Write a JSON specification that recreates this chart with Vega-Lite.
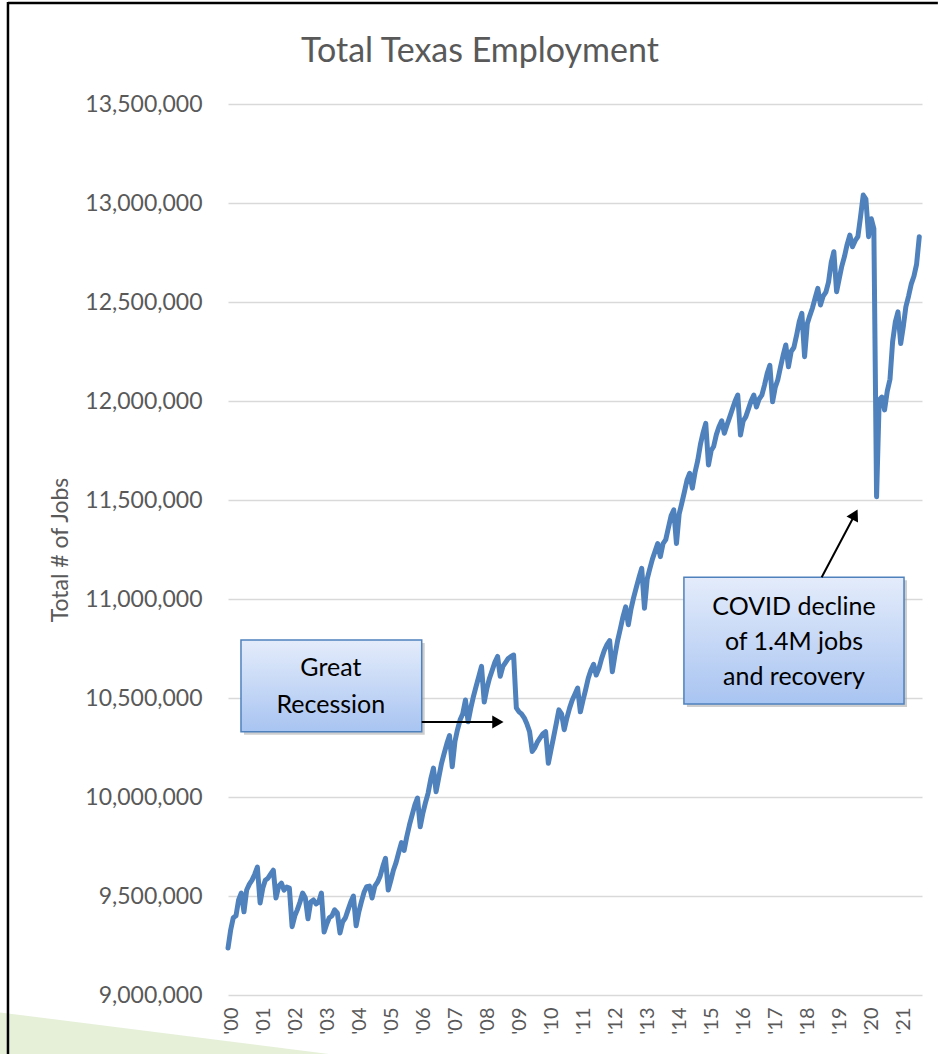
{
  "$schema": "https://vega.github.io/schema/vega-lite/v6.json",
  "autosize": {"type": "none"},
  "padding": {"left": 228, "top": 104, "right": 16, "bottom": 59},
  "width": 694,
  "height": 891,
  "background": "white",
  "title": {"text": "Total Texas Employment", "font": "Lato", "fontSize": 34, "fontWeight": "normal", "color": "#595959", "anchor": "middle", "frame": "group", "baseline": "alphabetic", "offset": -95, "dx": -95},
  "config": {"view": {"stroke": null}, "font": "Lato"},
  "datasets": {
    "emp": [
      {"d": "2000-01-01", "v": 9237000}, {"d": "2000-02-01", "v": 9330000}, {"d": "2000-03-01", "v": 9390000}, {"d": "2000-04-01", "v": 9400000}, {"d": "2000-05-01", "v": 9480000}, {"d": "2000-06-01", "v": 9515000}, {"d": "2000-07-01", "v": 9420000}, {"d": "2000-08-01", "v": 9530000}, {"d": "2000-09-01", "v": 9560000}, {"d": "2000-10-01", "v": 9580000}, {"d": "2000-11-01", "v": 9610000}, {"d": "2000-12-01", "v": 9646000},
      {"d": "2001-01-01", "v": 9465000}, {"d": "2001-02-01", "v": 9540000}, {"d": "2001-03-01", "v": 9580000}, {"d": "2001-04-01", "v": 9590000}, {"d": "2001-05-01", "v": 9610000}, {"d": "2001-06-01", "v": 9630000}, {"d": "2001-07-01", "v": 9490000}, {"d": "2001-08-01", "v": 9550000}, {"d": "2001-09-01", "v": 9565000}, {"d": "2001-10-01", "v": 9530000}, {"d": "2001-11-01", "v": 9545000}, {"d": "2001-12-01", "v": 9540000},
      {"d": "2002-01-01", "v": 9345000}, {"d": "2002-02-01", "v": 9400000}, {"d": "2002-03-01", "v": 9430000}, {"d": "2002-04-01", "v": 9470000}, {"d": "2002-05-01", "v": 9515000}, {"d": "2002-06-01", "v": 9490000}, {"d": "2002-07-01", "v": 9385000}, {"d": "2002-08-01", "v": 9470000}, {"d": "2002-09-01", "v": 9480000}, {"d": "2002-10-01", "v": 9460000}, {"d": "2002-11-01", "v": 9470000}, {"d": "2002-12-01", "v": 9515000},
      {"d": "2003-01-01", "v": 9318000}, {"d": "2003-02-01", "v": 9360000}, {"d": "2003-03-01", "v": 9390000}, {"d": "2003-04-01", "v": 9400000}, {"d": "2003-05-01", "v": 9430000}, {"d": "2003-06-01", "v": 9415000}, {"d": "2003-07-01", "v": 9313000}, {"d": "2003-08-01", "v": 9370000}, {"d": "2003-09-01", "v": 9390000}, {"d": "2003-10-01", "v": 9430000}, {"d": "2003-11-01", "v": 9470000}, {"d": "2003-12-01", "v": 9500000},
      {"d": "2004-01-01", "v": 9350000}, {"d": "2004-02-01", "v": 9420000}, {"d": "2004-03-01", "v": 9470000}, {"d": "2004-04-01", "v": 9520000}, {"d": "2004-05-01", "v": 9547000}, {"d": "2004-06-01", "v": 9550000}, {"d": "2004-07-01", "v": 9490000}, {"d": "2004-08-01", "v": 9550000}, {"d": "2004-09-01", "v": 9570000}, {"d": "2004-10-01", "v": 9600000}, {"d": "2004-11-01", "v": 9650000}, {"d": "2004-12-01", "v": 9690000},
      {"d": "2005-01-01", "v": 9530000}, {"d": "2005-02-01", "v": 9580000}, {"d": "2005-03-01", "v": 9630000}, {"d": "2005-04-01", "v": 9670000}, {"d": "2005-05-01", "v": 9720000}, {"d": "2005-06-01", "v": 9770000}, {"d": "2005-07-01", "v": 9730000}, {"d": "2005-08-01", "v": 9800000}, {"d": "2005-09-01", "v": 9860000}, {"d": "2005-10-01", "v": 9910000}, {"d": "2005-11-01", "v": 9960000}, {"d": "2005-12-01", "v": 9995000},
      {"d": "2006-01-01", "v": 9850000}, {"d": "2006-02-01", "v": 9920000}, {"d": "2006-03-01", "v": 9970000}, {"d": "2006-04-01", "v": 10020000}, {"d": "2006-05-01", "v": 10090000}, {"d": "2006-06-01", "v": 10146000}, {"d": "2006-07-01", "v": 10027000}, {"d": "2006-08-01", "v": 10100000}, {"d": "2006-09-01", "v": 10170000}, {"d": "2006-10-01", "v": 10220000}, {"d": "2006-11-01", "v": 10270000}, {"d": "2006-12-01", "v": 10310000},
      {"d": "2007-01-01", "v": 10153000}, {"d": "2007-02-01", "v": 10280000}, {"d": "2007-03-01", "v": 10338000}, {"d": "2007-04-01", "v": 10390000}, {"d": "2007-05-01", "v": 10420000}, {"d": "2007-06-01", "v": 10490000}, {"d": "2007-07-01", "v": 10380000}, {"d": "2007-08-01", "v": 10450000}, {"d": "2007-09-01", "v": 10510000}, {"d": "2007-10-01", "v": 10560000}, {"d": "2007-11-01", "v": 10610000}, {"d": "2007-12-01", "v": 10660000},
      {"d": "2008-01-01", "v": 10480000}, {"d": "2008-02-01", "v": 10550000}, {"d": "2008-03-01", "v": 10600000}, {"d": "2008-04-01", "v": 10640000}, {"d": "2008-05-01", "v": 10680000}, {"d": "2008-06-01", "v": 10710000}, {"d": "2008-07-01", "v": 10610000}, {"d": "2008-08-01", "v": 10660000}, {"d": "2008-09-01", "v": 10680000}, {"d": "2008-10-01", "v": 10700000}, {"d": "2008-11-01", "v": 10710000}, {"d": "2008-12-01", "v": 10717000},
      {"d": "2009-01-01", "v": 10450000}, {"d": "2009-02-01", "v": 10430000}, {"d": "2009-03-01", "v": 10420000}, {"d": "2009-04-01", "v": 10400000}, {"d": "2009-05-01", "v": 10370000}, {"d": "2009-06-01", "v": 10330000}, {"d": "2009-07-01", "v": 10230000}, {"d": "2009-08-01", "v": 10250000}, {"d": "2009-09-01", "v": 10280000}, {"d": "2009-10-01", "v": 10300000}, {"d": "2009-11-01", "v": 10320000}, {"d": "2009-12-01", "v": 10330000},
      {"d": "2010-01-01", "v": 10170000}, {"d": "2010-02-01", "v": 10240000}, {"d": "2010-03-01", "v": 10300000}, {"d": "2010-04-01", "v": 10370000}, {"d": "2010-05-01", "v": 10440000}, {"d": "2010-06-01", "v": 10420000}, {"d": "2010-07-01", "v": 10340000}, {"d": "2010-08-01", "v": 10400000}, {"d": "2010-09-01", "v": 10450000}, {"d": "2010-10-01", "v": 10490000}, {"d": "2010-11-01", "v": 10520000}, {"d": "2010-12-01", "v": 10550000},
      {"d": "2011-01-01", "v": 10430000}, {"d": "2011-02-01", "v": 10490000}, {"d": "2011-03-01", "v": 10540000}, {"d": "2011-04-01", "v": 10600000}, {"d": "2011-05-01", "v": 10640000}, {"d": "2011-06-01", "v": 10670000}, {"d": "2011-07-01", "v": 10616000}, {"d": "2011-08-01", "v": 10650000}, {"d": "2011-09-01", "v": 10700000}, {"d": "2011-10-01", "v": 10740000}, {"d": "2011-11-01", "v": 10770000}, {"d": "2011-12-01", "v": 10790000},
      {"d": "2012-01-01", "v": 10633000}, {"d": "2012-02-01", "v": 10720000}, {"d": "2012-03-01", "v": 10790000}, {"d": "2012-04-01", "v": 10850000}, {"d": "2012-05-01", "v": 10910000}, {"d": "2012-06-01", "v": 10960000}, {"d": "2012-07-01", "v": 10870000}, {"d": "2012-08-01", "v": 10950000}, {"d": "2012-09-01", "v": 11010000}, {"d": "2012-10-01", "v": 11060000}, {"d": "2012-11-01", "v": 11110000}, {"d": "2012-12-01", "v": 11155000},
      {"d": "2013-01-01", "v": 10953000}, {"d": "2013-02-01", "v": 11100000}, {"d": "2013-03-01", "v": 11150000}, {"d": "2013-04-01", "v": 11200000}, {"d": "2013-05-01", "v": 11240000}, {"d": "2013-06-01", "v": 11280000}, {"d": "2013-07-01", "v": 11214000}, {"d": "2013-08-01", "v": 11280000}, {"d": "2013-09-01", "v": 11300000}, {"d": "2013-10-01", "v": 11360000}, {"d": "2013-11-01", "v": 11420000}, {"d": "2013-12-01", "v": 11450000},
      {"d": "2014-01-01", "v": 11280000}, {"d": "2014-02-01", "v": 11430000}, {"d": "2014-03-01", "v": 11480000}, {"d": "2014-04-01", "v": 11540000}, {"d": "2014-05-01", "v": 11600000}, {"d": "2014-06-01", "v": 11635000}, {"d": "2014-07-01", "v": 11560000}, {"d": "2014-08-01", "v": 11640000}, {"d": "2014-09-01", "v": 11700000}, {"d": "2014-10-01", "v": 11780000}, {"d": "2014-11-01", "v": 11840000}, {"d": "2014-12-01", "v": 11887000},
      {"d": "2015-01-01", "v": 11677000}, {"d": "2015-02-01", "v": 11750000}, {"d": "2015-03-01", "v": 11770000}, {"d": "2015-04-01", "v": 11830000}, {"d": "2015-05-01", "v": 11870000}, {"d": "2015-06-01", "v": 11900000}, {"d": "2015-07-01", "v": 11837000}, {"d": "2015-08-01", "v": 11880000}, {"d": "2015-09-01", "v": 11920000}, {"d": "2015-10-01", "v": 11960000}, {"d": "2015-11-01", "v": 12000000}, {"d": "2015-12-01", "v": 12030000},
      {"d": "2016-01-01", "v": 11828000}, {"d": "2016-02-01", "v": 11900000}, {"d": "2016-03-01", "v": 11920000}, {"d": "2016-04-01", "v": 11960000}, {"d": "2016-05-01", "v": 12000000}, {"d": "2016-06-01", "v": 12030000}, {"d": "2016-07-01", "v": 11970000}, {"d": "2016-08-01", "v": 12010000}, {"d": "2016-09-01", "v": 12030000}, {"d": "2016-10-01", "v": 12080000}, {"d": "2016-11-01", "v": 12140000}, {"d": "2016-12-01", "v": 12180000},
      {"d": "2017-01-01", "v": 11996000}, {"d": "2017-02-01", "v": 12070000}, {"d": "2017-03-01", "v": 12106000}, {"d": "2017-04-01", "v": 12170000}, {"d": "2017-05-01", "v": 12230000}, {"d": "2017-06-01", "v": 12283000}, {"d": "2017-07-01", "v": 12173000}, {"d": "2017-08-01", "v": 12250000}, {"d": "2017-09-01", "v": 12270000}, {"d": "2017-10-01", "v": 12330000}, {"d": "2017-11-01", "v": 12400000}, {"d": "2017-12-01", "v": 12443000},
      {"d": "2018-01-01", "v": 12224000}, {"d": "2018-02-01", "v": 12390000}, {"d": "2018-03-01", "v": 12430000}, {"d": "2018-04-01", "v": 12470000}, {"d": "2018-05-01", "v": 12520000}, {"d": "2018-06-01", "v": 12569000}, {"d": "2018-07-01", "v": 12485000}, {"d": "2018-08-01", "v": 12530000}, {"d": "2018-09-01", "v": 12550000}, {"d": "2018-10-01", "v": 12600000}, {"d": "2018-11-01", "v": 12700000}, {"d": "2018-12-01", "v": 12754000},
      {"d": "2019-01-01", "v": 12552000}, {"d": "2019-02-01", "v": 12620000}, {"d": "2019-03-01", "v": 12680000}, {"d": "2019-04-01", "v": 12730000}, {"d": "2019-05-01", "v": 12790000}, {"d": "2019-06-01", "v": 12838000}, {"d": "2019-07-01", "v": 12779000}, {"d": "2019-08-01", "v": 12810000}, {"d": "2019-09-01", "v": 12830000}, {"d": "2019-10-01", "v": 12930000}, {"d": "2019-11-01", "v": 13040000}, {"d": "2019-12-01", "v": 13020000},
      {"d": "2020-01-01", "v": 12830000}, {"d": "2020-02-01", "v": 12920000}, {"d": "2020-03-01", "v": 12870000}, {"d": "2020-04-01", "v": 11516000}, {"d": "2020-05-01", "v": 12005000}, {"d": "2020-06-01", "v": 12020000}, {"d": "2020-07-01", "v": 11955000}, {"d": "2020-08-01", "v": 12050000}, {"d": "2020-09-01", "v": 12110000}, {"d": "2020-10-01", "v": 12300000}, {"d": "2020-11-01", "v": 12400000}, {"d": "2020-12-01", "v": 12450000},
      {"d": "2021-01-01", "v": 12290000}, {"d": "2021-02-01", "v": 12380000}, {"d": "2021-03-01", "v": 12476000}, {"d": "2021-04-01", "v": 12530000}, {"d": "2021-05-01", "v": 12590000}, {"d": "2021-06-01", "v": 12630000}, {"d": "2021-07-01", "v": 12690000}, {"d": "2021-08-01", "v": 12830000}
    ],
    "boxes": [
      {"id": "gr", "x1": "2000-05-28", "x2": "2006-01-18", "y1": 10793000, "y2": 10329800},
      {"id": "covid", "x1": "2014-03-27", "x2": "2021-02-08", "y1": 11109600, "y2": 10469700}
    ],
    "labels": [
      {"d": "2003-03-19", "v": 10651500, "t": "Great"},
      {"d": "2003-03-19", "v": 10464650, "t": "Recession"},
      {"d": "2017-09-02", "v": 10961100, "t": "COVID decline"},
      {"d": "2017-09-02", "v": 10784400, "t": "of 1.4M jobs"},
      {"d": "2017-09-02", "v": 10607600, "t": "and recovery"}
    ],
    "arrows": [
      {"id": "gr", "x1": "2006-01-18", "y1": 10378800, "x2": "2008-06-05", "y2": 10378800},
      {"id": "covid", "x1": "2018-07-15", "y1": 11109600, "x2": "2019-07-29", "y2": 11426800}
    ],
    "frame": [
      {"x1": "1993-02-17", "y1": 8700000, "x2": "1993-02-17", "y2": 14015000},
      {"x1": "1993-02-17", "y1": 14010000, "x2": "2022-03-01", "y2": 14010000}
    ],
    "deco": [
      {"d": "1992-11-18", "v": 8912000, "b": 8700000},
      {"d": "2003-04-01", "v": 8700000, "b": 8700000}
    ]
  },
  "layer": [
    {
      "data": {"name": "emp"},
      "mark": {"type": "line", "color": "#4f81bd", "strokeWidth": 5, "strokeCap": "round", "strokeJoin": "round"},
      "encoding": {
        "x": {
          "field": "d", "type": "temporal",
          "scale": {"type": "utc", "domain": [{"year": 2000, "month": 1, "date": 1, "utc": true}, {"year": 2021, "month": 9, "date": 1, "utc": true}]},
          "axis": {"title": null, "format": "'%y", "tickCount": {"interval": "year", "step": 1}, "labelAngle": -90, "labelFont": "Lato", "labelFontSize": 20, "labelColor": "#595959", "grid": false, "domain": false, "ticks": false, "labelPadding": 12, "labelOffset": 3, "labelFlush": false, "labelOverlap": false}
        },
        "y": {
          "field": "v", "type": "quantitative",
          "scale": {"domain": [9000000, 13500000], "nice": false, "zero": false},
          "axis": {"title": "Total # of Jobs", "values": [9000000, 9500000, 10000000, 10500000, 11000000, 11500000, 12000000, 12500000, 13000000, 13500000], "format": ",d", "grid": true, "gridColor": "#d9d9d9", "gridWidth": 1.5, "domain": false, "ticks": false, "labelFont": "Lato", "labelFontSize": 23, "labelColor": "#595959", "labelPadding": 26, "titleFont": "Lato", "titleFontSize": 23, "titleFontWeight": "normal", "titleColor": "#595959", "titleX": -168, "titleY": 445.5, "titleAngle": -90, "titleAlign": "center", "titleBaseline": "middle"}
        }
      }
    },
    {
      "data": {"name": "deco"},
      "mark": {"type": "area", "color": "#e6f0d9", "opacity": 1},
      "encoding": {
        "x": {"field": "d", "type": "temporal", "scale": {"type": "utc"}},
        "y": {"field": "v", "type": "quantitative"},
        "y2": {"field": "b"}
      }
    },
    {
      "data": {"name": "frame"},
      "mark": {"type": "rule", "color": "#000000", "strokeWidth": 2.5},
      "encoding": {
        "x": {"field": "x1", "type": "temporal", "scale": {"type": "utc"}},
        "x2": {"field": "x2"},
        "y": {"field": "y1", "type": "quantitative"},
        "y2": {"field": "y2"}
      }
    },
    {
      "data": {"name": "boxes"},
      "mark": {"type": "rect", "fill": "#a6a6a6", "opacity": 0.55, "xOffset": 3, "x2Offset": 3, "yOffset": 3, "y2Offset": 3},
      "encoding": {
        "x": {"field": "x1", "type": "temporal", "scale": {"type": "utc"}},
        "x2": {"field": "x2"},
        "y": {"field": "y1", "type": "quantitative"},
        "y2": {"field": "y2"}
      }
    },
    {
      "data": {"name": "boxes"},
      "mark": {"type": "rect", "stroke": "#4f81bd", "strokeWidth": 1.5, "fill": {"gradient": "linear", "x1": 0, "y1": 0, "x2": 0, "y2": 1, "stops": [{"offset": 0, "color": "#e4ecfb"}, {"offset": 1, "color": "#a8c4f1"}]}},
      "encoding": {
        "x": {"field": "x1", "type": "temporal", "scale": {"type": "utc"}},
        "x2": {"field": "x2"},
        "y": {"field": "y1", "type": "quantitative"},
        "y2": {"field": "y2"}
      }
    },
    {
      "data": {"name": "labels"},
      "mark": {"type": "text", "font": "Lato", "fontSize": 25, "color": "#000000", "align": "center", "baseline": "middle"},
      "encoding": {
        "x": {"field": "d", "type": "temporal", "scale": {"type": "utc"}},
        "y": {"field": "v", "type": "quantitative"},
        "text": {"field": "t"}
      }
    },
    {
      "data": {"name": "arrows"},
      "mark": {"type": "rule", "color": "#000000", "strokeWidth": 2},
      "encoding": {
        "x": {"field": "x1", "type": "temporal", "scale": {"type": "utc"}},
        "x2": {"field": "x2"},
        "y": {"field": "y1", "type": "quantitative"},
        "y2": {"field": "y2"}
      }
    },
    {
      "data": {"name": "arrows"},
      "transform": [{"filter": "datum.id == 'gr'"}],
      "mark": {"type": "point", "shape": "triangle-right", "filled": true, "color": "#000000", "size": 170, "opacity": 1},
      "encoding": {
        "x": {"field": "x2", "type": "temporal", "scale": {"type": "utc"}},
        "y": {"field": "y2", "type": "quantitative"}
      }
    },
    {
      "data": {"name": "arrows"},
      "transform": [{"filter": "datum.id == 'covid'"}],
      "mark": {"type": "point", "shape": "triangle-up", "angle": 28, "filled": true, "color": "#000000", "size": 170, "opacity": 1},
      "encoding": {
        "x": {"field": "x2", "type": "temporal", "scale": {"type": "utc"}},
        "y": {"field": "y2", "type": "quantitative"}
      }
    }
  ]
}
